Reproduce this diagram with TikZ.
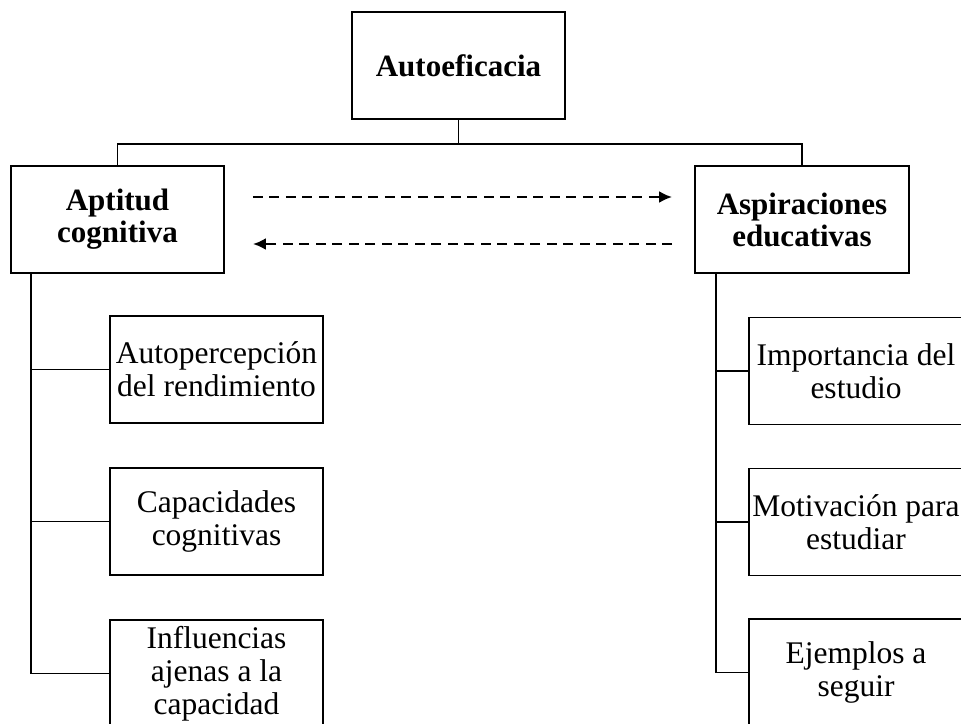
\documentclass[tikz,border=0pt]{standalone}
\usepackage{fontspec}
\setmainfont{Liberation Serif}
\usetikzlibrary{calc,arrows.meta}

\tikzset{
  box/.style={draw, line width=1.8pt, inner sep=0pt, minimum width=213pt,
    minimum height=107pt, align=center,
    font=\fontsize{31.5}{33}\selectfont},
  headbox/.style={box, font=\fontsize{31}{32}\selectfont\bfseries},
  link/.style={line width=1.5pt},
  flow/.style={line width=2.5pt, dash pattern=on 10pt off 6.5pt,
    -{Latex[length=13pt,width=12pt]}}
}

\begin{document}
\begin{tikzpicture}[x=1pt,y=-1pt]
  \useasboundingbox (0,0) rectangle (961,723);
  \clip (0,0) rectangle (961,723);

  % top level
  \node[headbox] (auto) at (458.5,65.5) {Autoeficacia};

  % second level
  \node[headbox] (apt) at (117.5,219.5) {Aptitud\\cognitiva};
  \node[headbox, minimum width=214pt] (asp) at (802,219.5) {Aspiraciones\\educativas};

  % branches of Aptitud cognitiva
  \node[box] (l1) at (216.5,369.5) {Autopercepción\\del rendimiento};
  \node[box] (l2) at (216.5,521.5) {Capacidades\\cognitivas};
  \node[box] (l3) at (216.5,673.5) {Influencias\\ajenas a la\\capacidad};

  % branches of Aspiraciones educativas
  \node[box, minimum width=214pt] (r1) at (856,371) {Importancia del\\estudio};
  \node[box, minimum width=214pt] (r2) at (856,522) {Motivación para\\estudiar};
  \node[box, minimum width=214pt] (r3) at (856,672.5) {Ejemplos a\\seguir};

  % tree connectors from the top box
  \coordinate (fork) at ($(auto.south)+(0,24)$);
  \draw[link] (auto.south) -- (fork) -| (apt.north);
  \draw[link] (fork) -| (asp.north);

  % left trunk
  \coordinate (lt) at ($(apt.south west)+(21,0)$);
  \draw[link] (lt) |- (l1.west);
  \draw[link] (lt) |- (l2.west);
  \draw[link] (lt) |- (l3.west);

  % right trunk
  \coordinate (rt) at ($(asp.south west)+(22,0)$);
  \draw[link] (rt) |- (r1.west);
  \draw[link] (rt) |- (r2.west);
  \draw[link] (rt) |- (r3.west);

  % mutual influence between the two factors
  \draw[flow] ($(apt.east)+(28,-22.5)$) -- ($(asp.west)+(-22,-22.5)$);
  \draw[flow] ($(asp.west)+(-22,24.5)$) -- ($(apt.east)+(28,24.5)$);
\end{tikzpicture}
\end{document}
